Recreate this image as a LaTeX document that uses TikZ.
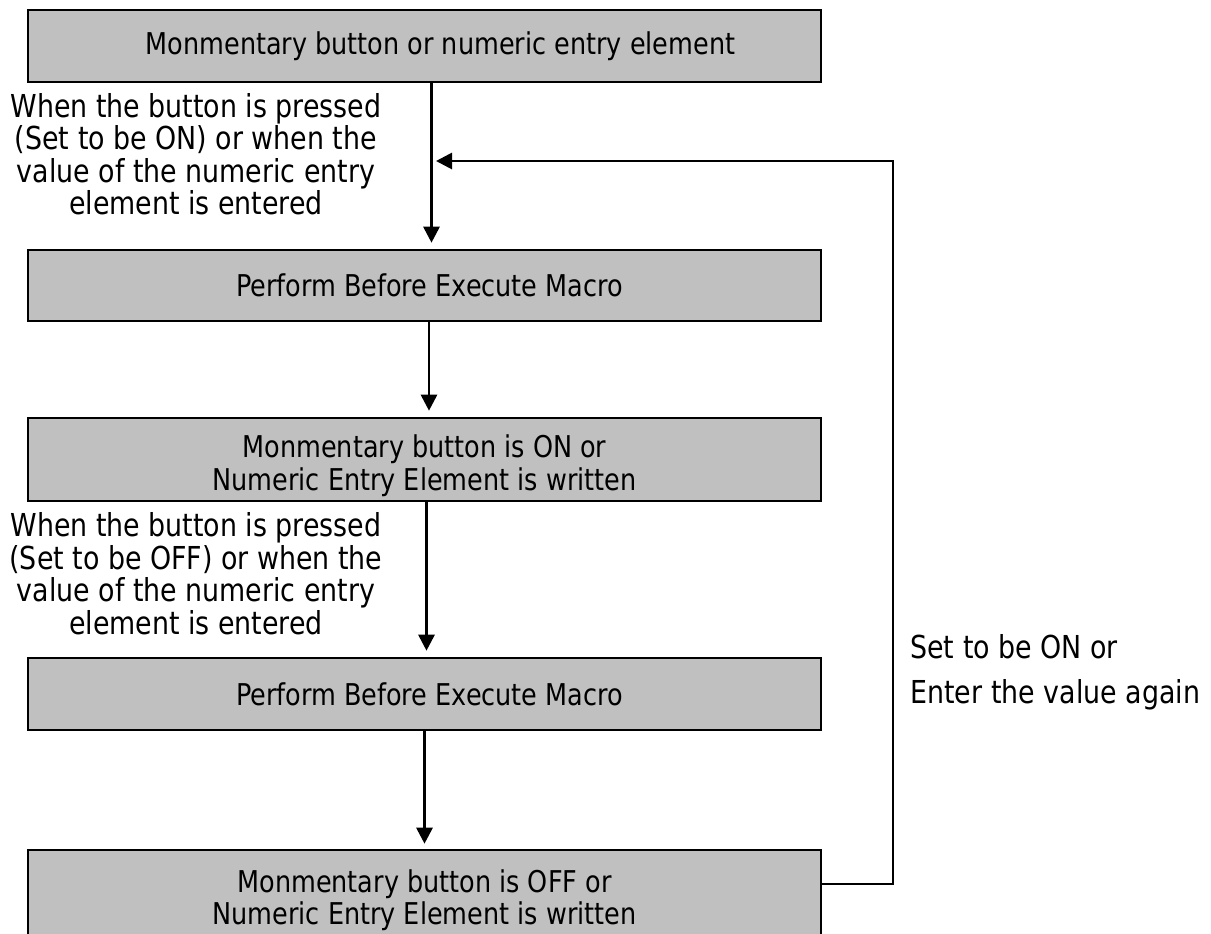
\documentclass[tikz,border=0pt]{standalone}
\usepackage{fontspec}
\setmainfont{DejaVu Sans}[FakeStretch=0.85]
\usetikzlibrary{arrows.meta}
\definecolor{boxgray}{RGB}{192,192,192}
\begin{document}
\begin{tikzpicture}[x=0.5pt,y=-0.5pt,
  txt/.style={font=\fontsize{15}{16.25}\selectfont, align=center, inner sep=0pt},
  lbl/.style={font=\fontsize{15.8}{16.25}\selectfont, align=center, inner sep=0pt},
  box/.style={txt, draw=black, line width=1.3pt, fill=boxgray, minimum width=396.5pt},
  arr/.style={line width=1.4pt, -{Triangle[length=8pt,width=8pt]}}]
\clip (0,0) rectangle (1211,933);
\fill[white] (0,0) rectangle (1211,933);
\node[box, minimum height=36pt] (b1) at (424.5,46) {\hspace*{16pt}Monmentary button or numeric entry element};
\node[box, minimum height=35.5pt] (b2) at (424.5,285.5) {\hspace*{5pt}Perform Before Execute Macro};
\node[box, minimum height=41.5pt] (b3) at (424.5,459.5) {\rule{0pt}{17.5pt}Monmentary button is ON or\\Numeric Entry Element is written};
\node[box, minimum height=36pt] (b4) at (424.5,694) {\hspace*{5pt}Perform Before Execute Macro};
\node[box, minimum height=50pt] (b5) at (424.5,900) {Monmentary button is OFF or\\Numeric Entry Element is written};
\node[lbl] (l1) at (196,154) {When the button is pressed\\(Set to be ON) or when the\\value of the numeric entry\\element is entered};
\node[lbl] (l2) at (196,573.5) {When the button is pressed\\(Set to be OFF) or when the\\value of the numeric entry\\element is entered};
\node[lbl, anchor=west] (r1) at (910,647) {Set to be ON or};
\node[lbl, anchor=west] (r2) at (910,695) {Enter the value again};
\draw[arr, shorten >=3pt] ([xshift=3.5pt]b1.south) -- ([xshift=3.5pt]b2.north);
\draw[arr, shorten >=3pt] ([xshift=2.25pt]b2.south) -- ([xshift=2.25pt]b3.north);
\draw[arr, shorten >=3pt] ([xshift=1pt]b3.south) -- ([xshift=1pt]b4.north);
\draw[arr, shorten >=2.5pt] (b4.south) -- (b5.north);
\coordinate (fbtop) at (893,161);
\coordinate (fbend) at (436,161);
\draw[arr] ([yshift=8pt]b5.east) -| (fbtop) -- (fbend);
\end{tikzpicture}
\end{document}
